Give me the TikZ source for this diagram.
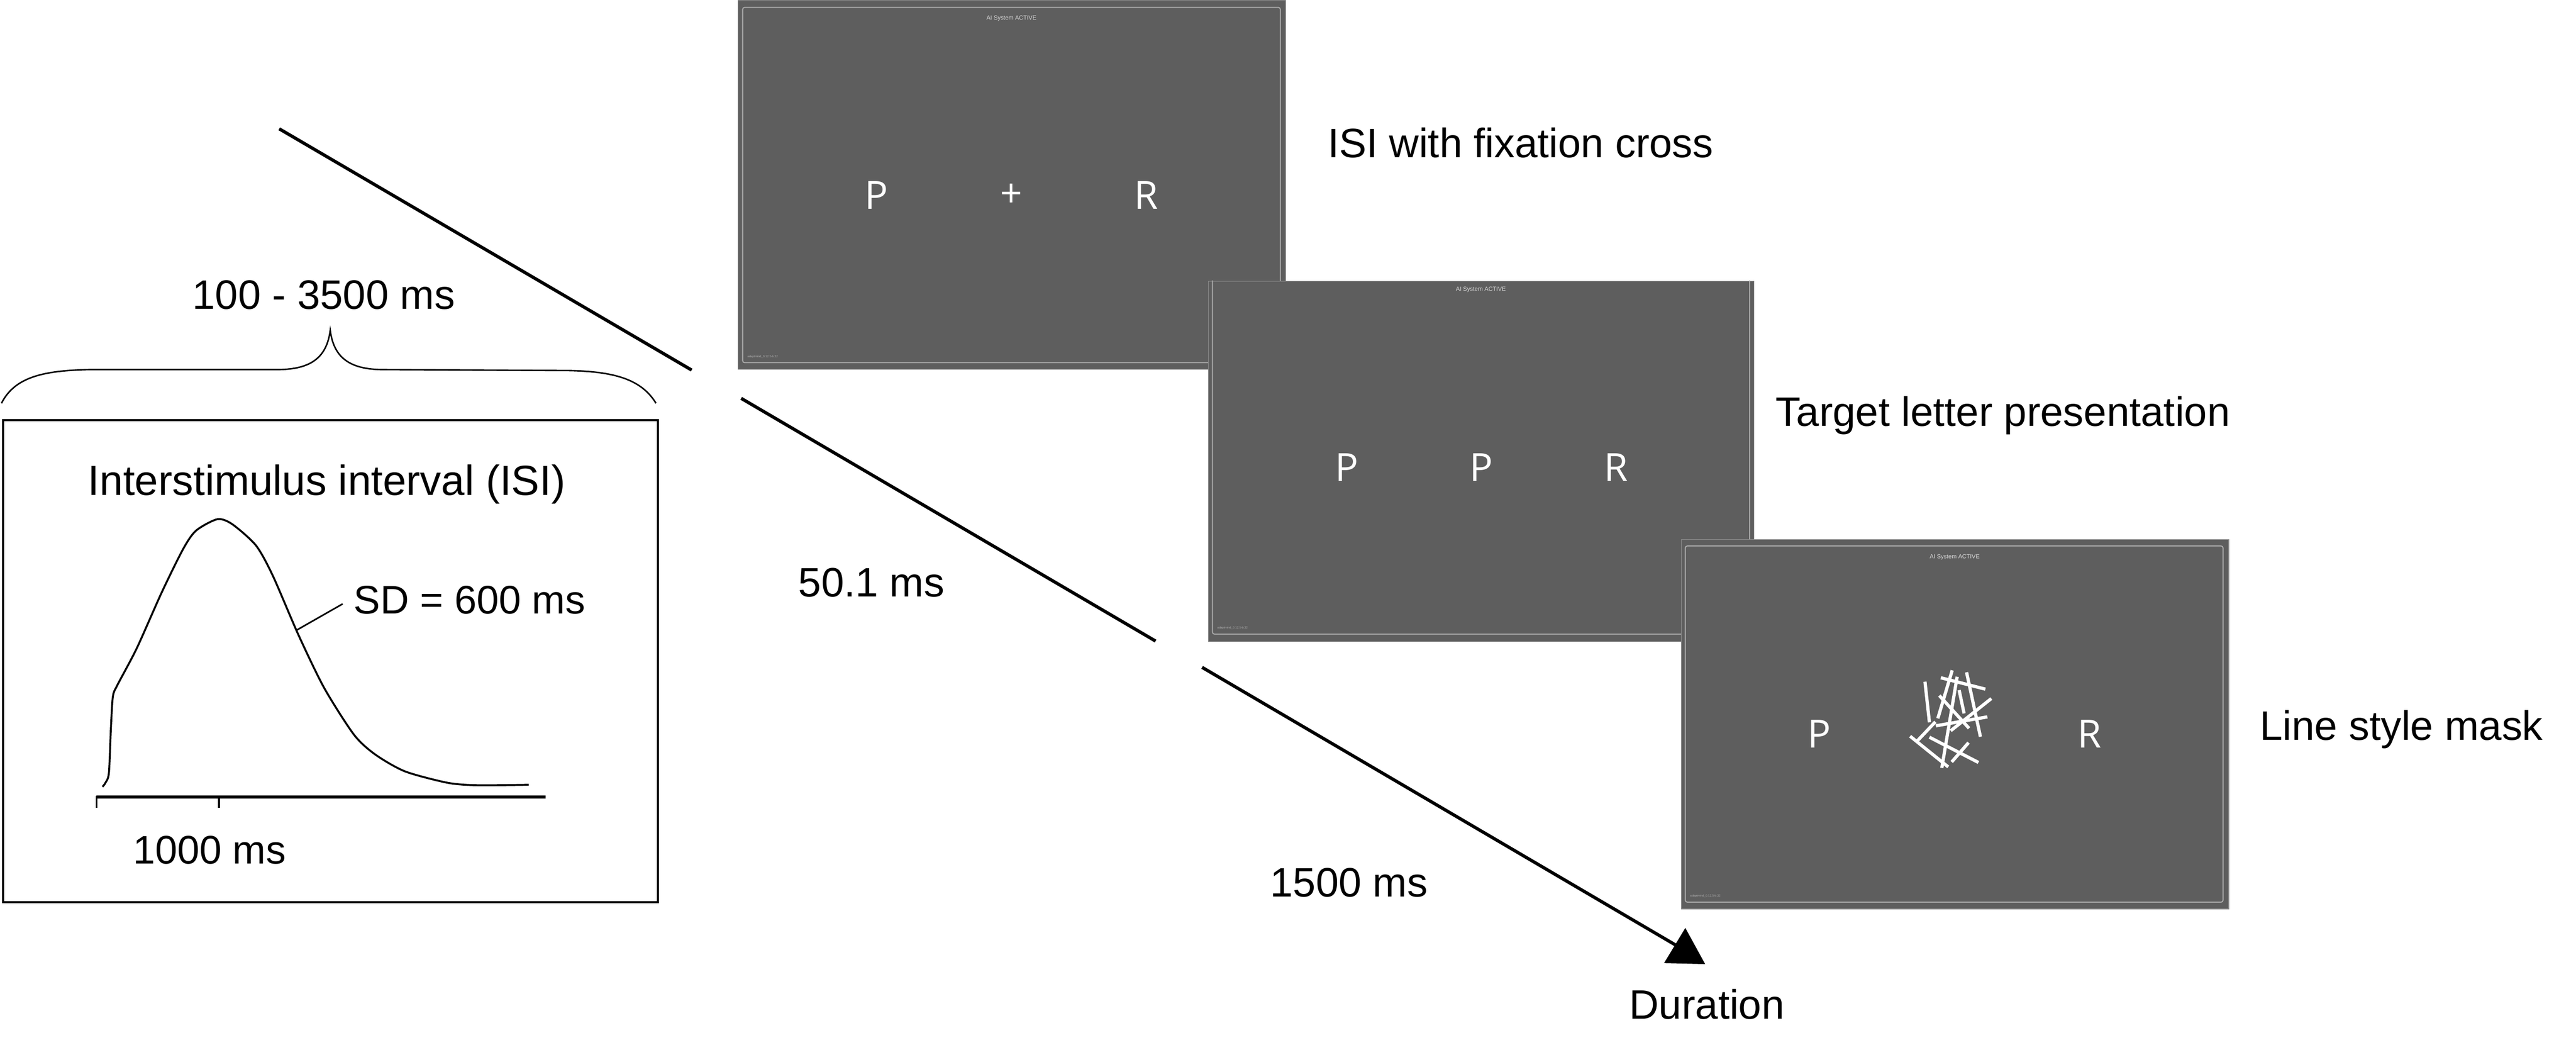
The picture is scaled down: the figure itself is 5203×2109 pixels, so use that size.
\documentclass[tikz,border=0pt]{standalone}
\usepackage{fontspec}
\setmainfont{Liberation Sans}
\newfontfamily\screenfont{Open Sans}
\usetikzlibrary{positioning,calc}

\definecolor{screengray}{HTML}{5E5E5E}
\definecolor{framegray}{HTML}{ABABAB}
\definecolor{edgegray}{HTML}{8C8C8C}

\tikzset{
  screen/.style={fill=screengray,draw=edgegray,line width=0.4pt,inner sep=0pt,anchor=north west},
  frame/.style={draw=framegray,line width=0.6pt,rounded corners=0.4mm},
  lbl/.style={inner sep=0pt,anchor=base west,font=\fontsize{23.6}{28}\selectfont},
  small lbl/.style={lbl,font=\fontsize{22.9}{27}\selectfont},
  letter/.style={inner sep=0pt,text=white,font=\screenfont\fontsize{22.3}{26}\selectfont},
  status/.style={inner sep=0pt,text=white!85!black,font=\fontsize{3.4}{4}\selectfont},
  build/.style={inner sep=0pt,anchor=base west,text=white!70!black,font=\fontsize{1.7}{2}\selectfont},
  time/.style={line width=1.85pt},
  stick/.style={white,line width=1.85pt}
}

\begin{document}
\begin{tikzpicture}[x=0.1mm,y=-0.1mm]
\useasboundingbox (0,0) rectangle (5203,2109);

% ISI distribution
\node[draw,line width=1.15pt,inner sep=0pt,minimum width=132.3mm,minimum height=97.3mm,anchor=north west] (isibox) at (4,846) {};
\node[lbl,anchor=base,font=\fontsize{24.2}{28}\selectfont] (isititle) at (660,999) {Interstimulus interval (ISI)};
\draw[line width=1.1pt,line join=round] plot[smooth,tension=0.45] coordinates {
  (207,1588) (213,1580) (220,1560) (224,1470) (228,1406) (237,1383) (276,1309)
  (327,1195) (370,1108) (396,1071) (439,1048) (469,1058) (517,1101) (551,1162)
  (603,1282) (655,1389) (715,1483) (758,1523) (818,1557) (904,1580) (965,1585) (1068,1584)};
\coordinate (sdpt) at (599,1272);
\coordinate (sdend) at (692,1219);
\draw[line width=0.9pt] (sdpt) -- (sdend);
\node[small lbl] (sd) at (714,1239) {SD = 600 ms};
\coordinate (ax0) at (195,1609);
\coordinate (ax1) at (1102,1609);
\draw[line width=1.8pt] (ax0) -- (ax1);
\draw[line width=1.1pt] (195,1607) -- (195,1631);
\draw[line width=1.1pt] (442,1609) -- (442,1631);
\node[small lbl] (mean) at (268,1744) {1000 ms};

% brace and range
\draw[line width=0.85pt] (3,814) .. controls (30,760) and (90,748) .. (180,746) -- (560,746)
  .. controls (630,746) and (660,720) .. (667,667)
  .. controls (674,720) and (704,746) .. (774,746) -- (1150,748)
  .. controls (1240,750) and (1295,765) .. (1325,814);
\node[lbl] (range) at (388,624) {100 - 3500 ms};

% screens
\node[screen,minimum width=110.6mm,minimum height=74.5mm] (scr1) at (1490,0) {};
\draw[frame] (1500,15) rectangle (2586,732);
\node[status] (st1) at (2043,37) {AI System ACTIVE};
\node[build] (bd1) at (1509,722) {adaptmind\_0.12.5-b.32};
\node[letter] (p1) at (1770,394) {P};
\node[letter] (fix) at (2043,395) {+};
\node[letter] (r1) at (2315,394) {R};

\node[screen,minimum width=110.2mm,minimum height=72.7mm] (scr2) at (2440,567) {};
\begin{scope}
\clip (2440,567) rectangle (3542,1294);
\draw[frame] (2449,549) rectangle (3534,1280);
\end{scope}
\node[status] (st2) at (2991,585) {AI System ACTIVE};
\node[build] (bd2) at (2458,1269) {adaptmind\_0.12.5-b.32};
\node[letter] (p2) at (2720,943) {P};
\node[letter] (tgt) at (2992,943) {P};
\node[letter] (r2) at (3264,943) {R};

\node[screen,minimum width=110.6mm,minimum height=74.6mm] (scr3) at (3395,1088) {};
\draw[frame] (3404,1102) rectangle (4490,1821);
\node[status] (st3) at (3948,1125) {AI System ACTIVE};
\node[build] (bd3) at (3413,1810) {adaptmind\_0.12.5-b.32};
\node[letter] (p3) at (3675,1481) {P};
\node[letter] (r3) at (4220,1481) {R};
\foreach \a/\b in {{3888,1376}/{3897,1458},{3920,1368}/{4010,1391},{3943,1353}/{3914,1450},
  {3953,1366}/{3922,1550},{3972,1357}/{4000,1487},{3957,1393}/{3967,1440},
  {3917,1404}/{3977,1470},{4022,1410}/{3940,1475},{3910,1465}/{4014,1447},
  {3909,1457}/{3873,1495},{3858,1486}/{3935,1548},{3897,1488}/{3996,1539},
  {3976,1499}/{3942,1538}}
  \draw[stick] (\a) -- (\b);

% screen labels
\node[lbl] (isilbl) at (2681,318) {ISI with fixation cross};
\node[lbl] (tgtlbl) at (3586,860) {Target letter presentation};
\node[lbl] (masklbl) at (4564,1494) {Line style mask};

% time line
\coordinate (t0) at (564,260);
\coordinate (t1) at (1397,747);
\coordinate (t2) at (1497,804);
\coordinate (t3) at (2334,1294);
\coordinate (t4) at (2428,1347);
\coordinate (t5) at (3392,1912);
\draw[time] (t0) -- (t1);
\draw[time] (t2) -- (t3);
\draw[time] (t4) -- (t5);
\fill (3404,1873) -- (3361,1944) -- (3444,1946) -- cycle;
\node[lbl] (tgtdur) at (1612,1205) {50.1 ms};
\node[lbl] (maskdur) at (2565,1810) {1500 ms};
\node[lbl] (dur) at (3290,2057) {Duration};
\end{tikzpicture}
\end{document}
